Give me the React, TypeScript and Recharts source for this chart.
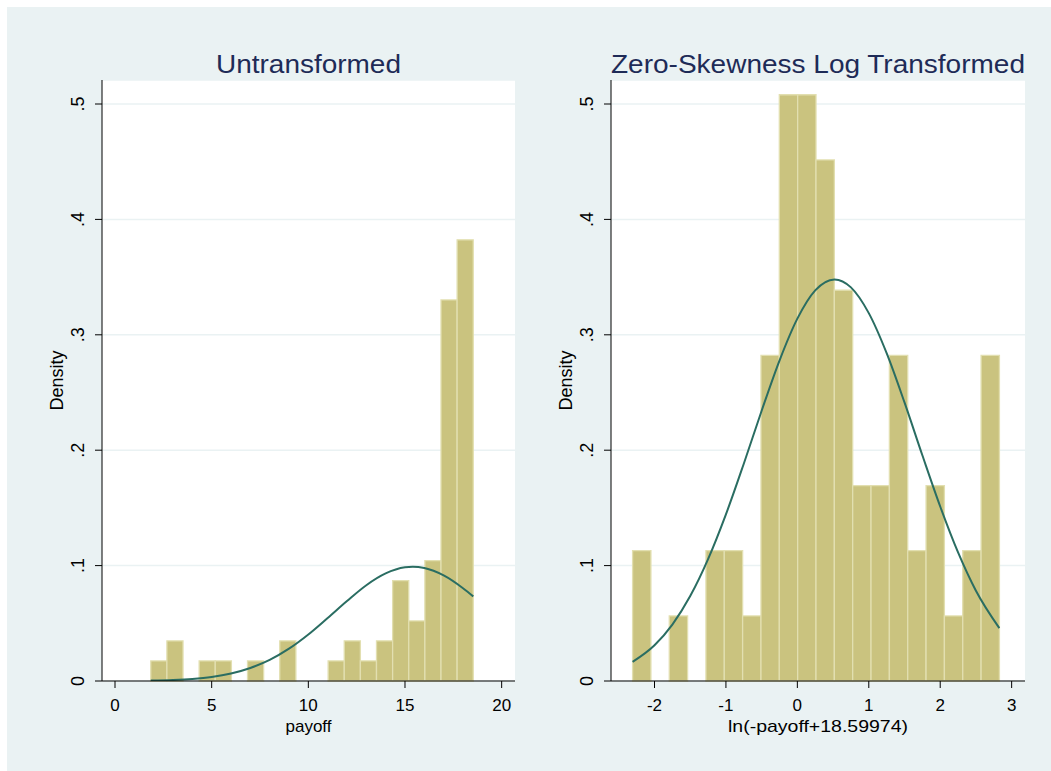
import React from 'react';
import {
  ComposedChart,
  Line,
  XAxis,
  YAxis,
  CartesianGrid,
  ReferenceArea,
} from 'recharts';

// payoff histogram: 20 bins starting at 1.85
const payoffBinStart = 1.85;
const payoffBinWidth = 0.834;
const payoffDensity = [
  0.0174, 0.0348, 0, 0.0174, 0.0174, 0, 0.0174, 0, 0.0348, 0,
  0, 0.0174, 0.0348, 0.0174, 0.0348, 0.0869, 0.0521, 0.1043, 0.3302, 0.3823,
];
const payoffCurveX = [1.85, 3, 4, 5, 6, 7, 8, 9, 10, 11, 12, 13, 14, 15, 15.4, 16, 17, 18, 18.53];
const payoffCurveY = [
  0.0004, 0.0009, 0.0018, 0.0035, 0.0065, 0.0113, 0.0183, 0.028, 0.0403, 0.0546,
  0.0693, 0.083, 0.0932, 0.0985, 0.099, 0.0979, 0.0915, 0.0804, 0.0733,
];
const payoffTicks = [0, 5, 10, 15, 20];

// ln(-payoff+18.59974) histogram: 20 bins starting at -2.307
const logBinStart = -2.307;
const logBinWidth = 0.2568;
const logDensity = [
  0.1129, 0, 0.0564, 0, 0.1129, 0.1129, 0.0564, 0.2822, 0.508, 0.508,
  0.4515, 0.3387, 0.1693, 0.1693, 0.2822, 0.1129, 0.1693, 0.0564, 0.1129, 0.2822,
];
const logCurveX = [
  -2.307, -2, -1.75, -1.5, -1.25, -1, -0.75, -0.5, -0.25, 0, 0.25,
  0.52, 0.75, 1, 1.25, 1.5, 1.75, 2, 2.25, 2.5, 2.828,
];
const logCurveY = [
  0.0166, 0.031, 0.0489, 0.0736, 0.1056, 0.1444, 0.1883, 0.2342, 0.2777, 0.314, 0.3385,
  0.348, 0.3411, 0.3188, 0.2841, 0.2414, 0.1956, 0.1512, 0.1114, 0.0782, 0.0458,
];
const logTicks = [-2, -1, 0, 1, 2, 3];

const densityTicks = [0, 0.1, 0.2, 0.3, 0.4, 0.5];

const FONT = '"Liberation Sans", Arial, sans-serif';
const BG = '#eaf2f3';
const BAR_FILL = '#cac37f';
const BAR_EDGE = '#e2dfb0';
const CURVE = '#2a6d62';
const TITLE = '#1e2b57';

const fmtDensity = (v: number) => (v === 0 ? '0' : v.toFixed(1).replace(/^0/, ''));

function DensityTick(props: any) {
  const { x, y, payload } = props;
  return (
    <text
      x={x}
      y={y}
      transform={`rotate(-90 ${x} ${y})`}
      textAnchor="middle"
      fontSize={18}
      fill="#000"
    >
      {fmtDensity(payload.value)}
    </text>
  );
}

// axis title under the x axis, baseline 9px above the bottom of the axis box
function XTitle({ viewBox, value, length }: any) {
  const cx = viewBox.x + viewBox.width / 2;
  const y = viewBox.y + viewBox.height - 9;
  return (
    <text
      x={cx}
      y={y}
      textAnchor="middle"
      fontSize={17}
      fill="#000"
      {...(length ? { textLength: length, lengthAdjust: 'spacingAndGlyphs' } : {})}
    >
      {value}
    </text>
  );
}

interface PanelProps {
  left: number;
  width: number;
  margin: { top: number; right: number; bottom: number; left: number };
  domain: [number, number];
  ticks: number[];
  xLabel: string;
  xLabelLength?: number;
  binStart: number;
  binWidth: number;
  density: number[];
  curveX: number[];
  curveY: number[];
}

function HistPanel(p: PanelProps) {
  const curve = p.curveX.map((x, i) => ({ x, y: p.curveY[i] }));
  return (
    <div style={{ position: 'absolute', left: p.left, top: 0 }}>
      <ComposedChart width={p.width} height={764} data={curve} margin={p.margin}>
        <CartesianGrid horizontal vertical={false} stroke={BG} strokeWidth={1.5} fill="#fff" />
        <XAxis
          type="number"
          dataKey="x"
          domain={p.domain}
          ticks={p.ticks}
          allowDataOverflow
          height={60}
          tickSize={7}
          tickMargin={11}
          axisLine={{ stroke: '#000' }}
          tickLine={{ stroke: '#000' }}
          tick={{ fill: '#000', fontSize: 17 }}
          label={{
            value: p.xLabel,
            content: (props: any) => <XTitle {...props} value={p.xLabel} length={p.xLabelLength} />,
          }}
        />
        <YAxis
          type="number"
          domain={[0, 0.5208]}
          ticks={densityTicks}
          allowDataOverflow
          width={90}
          tickSize={7}
          tickMargin={11}
          axisLine={{ stroke: '#000' }}
          tickLine={{ stroke: '#000' }}
          tick={<DensityTick />}
          label={{ value: 'Density', angle: -90, position: 'center', fill: '#000', fontSize: 18 }}
        />
        {p.density.map((d, i) =>
          d > 0 ? (
            <ReferenceArea
              key={i}
              x1={p.binStart + i * p.binWidth}
              x2={p.binStart + (i + 1) * p.binWidth}
              y1={0}
              y2={d}
              fill={BAR_FILL}
              fillOpacity={1}
              stroke={BAR_EDGE}
              strokeWidth={1.3}
            />
          ) : null
        )}
        <Line
          type="monotone"
          dataKey="y"
          stroke={CURVE}
          strokeWidth={2}
          dot={false}
          activeDot={false}
          isAnimationActive={false}
        />
      </ComposedChart>
    </div>
  );
}

export default function App() {
  return (
    <div
      style={{
        position: 'absolute',
        left: 7,
        top: 7,
        width: 1044,
        height: 764,
        background: BG,
        fontFamily: FONT,
      }}
    >
      <HistPanel
        left={0}
        width={520}
        margin={{ top: 73, right: 12, bottom: 30, left: 5 }}
        domain={[-0.673, 20.69]}
        ticks={payoffTicks}
        xLabel="payoff"
        binStart={payoffBinStart}
        binWidth={payoffBinWidth}
        density={payoffDensity}
        curveX={payoffCurveX}
        curveY={payoffCurveY}
      />
      <HistPanel
        left={510}
        width={534}
        margin={{ top: 73, right: 26, bottom: 30, left: 4 }}
        domain={[-2.609, 3.187]}
        ticks={logTicks}
        xLabel="ln(-payoff+18.59974)"
        xLabelLength={180}
        binStart={logBinStart}
        binWidth={logBinWidth}
        density={logDensity}
        curveX={logCurveX}
        curveY={logCurveY}
      />
      <svg
        width={1044}
        height={764}
        style={{ position: 'absolute', left: 0, top: 0, pointerEvents: 'none' }}
      >
        <text x={301.5} y={66} textAnchor="middle" fontSize={25} fill={TITLE} textLength={185} lengthAdjust="spacingAndGlyphs">
          Untransformed
        </text>
        <text x={811} y={66} textAnchor="middle" fontSize={25} fill={TITLE} textLength={414} lengthAdjust="spacingAndGlyphs">
          Zero-Skewness Log Transformed
        </text>
      </svg>
    </div>
  );
}
